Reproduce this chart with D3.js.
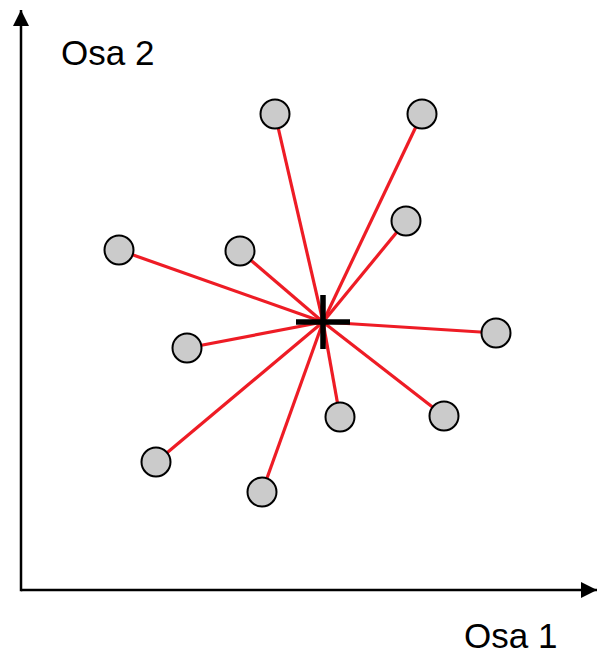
<!DOCTYPE html>
<html>
<head>
<meta charset="utf-8">
<script src="https://cdn.jsdelivr.net/npm/d3@7"></script>
<style>
  body { margin: 0; background: #fff; }
  svg { display: block; }
</style>
</head>
<body>
<div id="chart"></div>
<script>
// observations (axis 1, axis 2)
const xValues = [254, 401, 385, 98, 219, 166, 475, 319, 423, 135, 241];
const yValues = [476, 476, 369, 340, 339, 242, 257, 173, 174, 128, 98];
// centre point
const centre = [302, 268];
const axisLabels = ["Osa 1", "Osa 2"];

const width = 597, height = 656;
const origin = { x: 21, y: 590 };

const svg = d3.select("#chart")
    .append("svg")
    .attr("width", width)
    .attr("height", height);

const xScale = d3.scaleLinear().domain([0, 576]).range([origin.x, 597]);
const yScale = d3.scaleLinear().domain([0, 580]).range([origin.y, 10]);

const points = xValues.map((x, i) => ({ x: x, y: yValues[i] }));

// arrow heads
const defs = svg.append("defs");
defs.append("marker")
    .attr("id", "arrow")
    .attr("viewBox", "0 0 10 10")
    .attr("refX", 10)
    .attr("refY", 5)
    .attr("markerUnits", "userSpaceOnUse")
    .attr("markerWidth", 16)
    .attr("markerHeight", 16)
    .attr("orient", "auto")
    .append("path")
    .attr("d", "M0,0 L10,5 L0,10 Z")
    .attr("fill", "black");

// axes
svg.append("line")
    .attr("x1", xScale(0)).attr("y1", yScale(0))
    .attr("x2", xScale(576)).attr("y2", yScale(0))
    .attr("stroke", "black")
    .attr("stroke-width", 2.5)
    .attr("marker-end", "url(#arrow)");

svg.append("line")
    .attr("x1", xScale(0)).attr("y1", yScale(0) + 1.2)
    .attr("x2", xScale(0)).attr("y2", yScale(580))
    .attr("stroke", "black")
    .attr("stroke-width", 2.5)
    .attr("marker-end", "url(#arrow)");

svg.append("text")
    .attr("x", 464)
    .attr("y", 648)
    .style("font-family", "Liberation Sans, Arial, sans-serif")
    .style("font-size", "35px")
    .text(axisLabels[0]);

svg.append("text")
    .attr("x", 61)
    .attr("y", 65)
    .style("font-family", "Liberation Sans, Arial, sans-serif")
    .style("font-size", "35px")
    .text(axisLabels[1]);

// red spokes to centre
svg.selectAll(".spoke")
    .data(points)
    .enter()
    .append("line")
    .classed("spoke", true)
    .attr("x1", d => xScale(d.x))
    .attr("y1", d => yScale(d.y))
    .attr("x2", xScale(centre[0]))
    .attr("y2", yScale(centre[1]))
    .attr("stroke", "#ee1c25")
    .attr("stroke-width", 3.2);

// centre cross
const cx = xScale(centre[0]), cy = yScale(centre[1]);
svg.append("line")
    .attr("x1", cx - 27).attr("y1", cy)
    .attr("x2", cx + 27).attr("y2", cy)
    .attr("stroke", "black").attr("stroke-width", 5.5);
svg.append("line")
    .attr("x1", cx).attr("y1", cy - 27)
    .attr("x2", cx).attr("y2", cy + 27)
    .attr("stroke", "black").attr("stroke-width", 5.5);

// observation circles
svg.selectAll(".pt")
    .data(points)
    .enter()
    .append("circle")
    .classed("pt", true)
    .attr("cx", d => xScale(d.x))
    .attr("cy", d => yScale(d.y))
    .attr("r", 14.5)
    .attr("fill", "#cbcbcb")
    .attr("stroke", "black")
    .attr("stroke-width", 2);
</script>
</body>
</html>
